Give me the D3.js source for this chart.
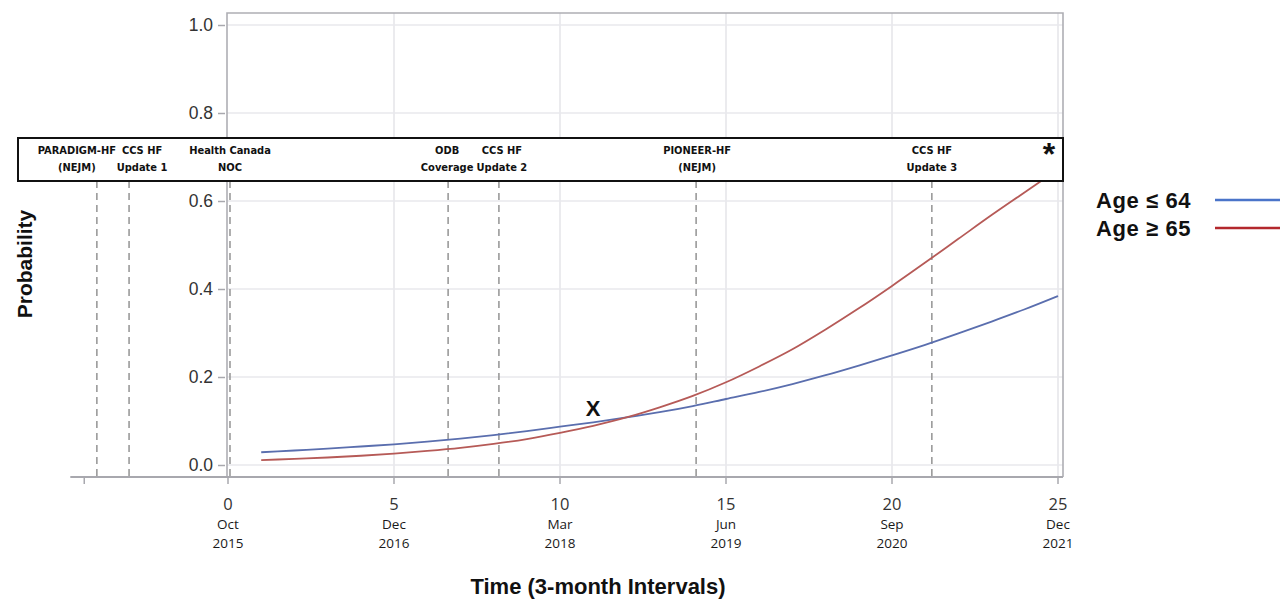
<!DOCTYPE html>
<html>
<head>
<meta charset="utf-8">
<script src="https://cdn.jsdelivr.net/npm/d3@7"></script>
<style>
  html, body { margin: 0; padding: 0; background: #fff; }
  svg { display: block; }
</style>
</head>
<body>
<svg id="chart" width="1280" height="602"></svg>
<script>
// ---------- DATA ----------
const times = [1,2,3,4,5,6,7,8,9,10,11,12,13,14,15,16,17,18,19,20,21,22,23,24,25];
const ageLE64 = [0.029,0.033,0.037,0.042,0.047,0.053,0.060,0.068,0.077,0.087,0.097,0.108,0.120,0.134,0.150,0.166,0.184,0.204,0.226,0.249,0.273,0.299,0.326,0.354,0.384];
const ageGE65 = [0.011,0.014,0.017,0.021,0.026,0.032,0.039,0.048,0.059,0.073,0.089,0.108,0.131,0.157,0.188,0.224,0.263,0.308,0.356,0.407,0.460,0.514,0.568,0.620,0.672];
const seriesNames = ["Age \u2264 64", "Age \u2265 65"];
const xTickValues = [0,5,10,15,20,25];
const xTickMonths = ["Oct","Dec","Mar","Jun","Sep","Dec"];
const xTickYears = ["2015","2016","2018","2019","2020","2021"];
const yTickValues = [0,0.2,0.4,0.6,0.8,1.0];
const eventTimes = [-3.95,-2.98,0.06,6.63,8.16,14.1,21.2];
const eventLabels = [["PARADIGM-HF","(NEJM)"],["CCS HF","Update 1"],["Health Canada","NOC"],["ODB","Coverage"],["CCS HF","Update 2"],["PIONEER-HF","(NEJM)"],["CCS HF","Update 3"]];
const crossMarkTime = 11.0, crossMarkProb = 0.13;

// ---------- LAYOUT ----------
const eventLabelDx = [-20, 13, 0, -1, 3, 1, 0];
const svg = d3.select("#chart");
const x = d3.scaleLinear().domain([0,25]).range([228,1058]);
const y = d3.scaleLinear().domain([0,1]).range([465,25]);
const frame = {left:227, right:1063, top:13, bottom:477};
const boxTop = 138, boxBottom = 181;
const colLine = ["#5a6eae", "#b65a57"];
const colLegend = ["#4a74c9", "#b3282d"];
const sans = "'Liberation Sans', Arial, sans-serif";
const tickFont = "'Open Sans', 'Liberation Sans', Arial, sans-serif";
const evFont = "'Liberation Sans Narrow', 'DejaVu Sans Condensed', Arial, sans-serif";

// gridlines
svg.append("g").selectAll("line.vg").data([5,10,15,20,25]).join("line")
  .attr("x1", d=>x(d)).attr("x2", d=>x(d))
  .attr("y1", frame.top).attr("y2", frame.bottom)
  .attr("stroke", "#e4e4e8").attr("stroke-width", 1.5);
svg.append("g").selectAll("line.hg").data(yTickValues).join("line")
  .attr("x1", frame.left).attr("x2", frame.right)
  .attr("y1", d=>y(d)).attr("y2", d=>y(d))
  .attr("stroke", "#e8e8ec").attr("stroke-width", 1.5);

// frame (top, right, left)
svg.append("path")
  .attr("d", `M${frame.left},${frame.bottom}V${frame.top}H${frame.right}V${frame.bottom}`)
  .attr("fill", "none").attr("stroke", "#aeaeb4").attr("stroke-width", 1.6);

// bottom axis line
svg.append("line")
  .attr("x1", x(-4.75)).attr("x2", x(25.15))
  .attr("y1", frame.bottom).attr("y2", frame.bottom)
  .attr("stroke", "#a8a8ae").attr("stroke-width", 1.8);

// x ticks
const xAxis = svg.append("g").attr("transform", `translate(0,${frame.bottom})`);
xAxis.selectAll("line").data(xTickValues.concat([-4.33])).join("line")
  .attr("x1", d=>x(d)).attr("x2", d=>x(d)).attr("y1", 0).attr("y2", 7)
  .attr("stroke", "#a8a8ae").attr("stroke-width", 1.5);
const xl = xAxis.selectAll("g.lab").data(xTickValues).join("g")
  .attr("transform", d=>`translate(${x(d)},0)`);
xl.append("text").attr("y", 33).attr("text-anchor","middle")
  .attr("font-family", tickFont).attr("font-size", 16.5).attr("fill","#333")
  .text(d=>d);
xl.append("text").attr("y", 52).attr("text-anchor","middle")
  .attr("font-family", tickFont).attr("font-size", 13.5).attr("fill","#1a1a1a")
  .text((d,i)=>xTickMonths[i]);
xl.append("text").attr("y", 71).attr("text-anchor","middle")
  .attr("font-family", tickFont).attr("font-size", 13.5).attr("fill","#1a1a1a")
  .text((d,i)=>xTickYears[i]);

// y axis
const yAxis = d3.axisLeft(y).tickValues(yTickValues).tickFormat(d3.format(".1f")).tickSize(7).tickPadding(5);
const yg = svg.append("g").attr("transform", `translate(225,0)`).call(yAxis);
yg.select(".domain").remove();
yg.selectAll(".tick line").attr("stroke", "#a8a8ae").attr("stroke-width", 1.5);
yg.selectAll(".tick text").attr("font-family", sans).attr("font-size", 17.5).attr("fill","#333");

// event dashed lines
svg.append("g").selectAll("line").data(eventTimes).join("line")
  .attr("x1", d=>x(d)).attr("x2", d=>x(d))
  .attr("y1", boxBottom).attr("y2", frame.bottom)
  .attr("stroke", "#9a9a9a").attr("stroke-width", 1.6).attr("stroke-dasharray", "7,5");

// curves
const line = d3.line().curve(d3.curveMonotoneX).x(d=>x(d[0])).y(d=>y(d[1]));
[ageLE64, ageGE65].forEach((vals, i) => {
  svg.append("path").datum(times.map((t,j)=>[t, vals[j]]))
    .attr("d", line).attr("fill","none").attr("stroke", colLine[i]).attr("stroke-width", 1.8);
});

// event box
svg.append("rect").attr("x", 18).attr("y", boxTop).attr("width", frame.right - 18).attr("height", boxBottom - boxTop)
  .attr("fill", "#fff").attr("stroke", "#111").attr("stroke-width", 2);
const ev = svg.append("g").selectAll("g").data(eventLabels).join("g")
  .attr("transform", (d,i)=>`translate(${x(eventTimes[i]) + eventLabelDx[i]},0)`);
ev.append("text").attr("y", 154).attr("text-anchor","middle")
  .attr("font-family", evFont).attr("font-weight","bold").attr("font-size", 11)
  .attr("fill","#111").text(d=>d[0]);
ev.append("text").attr("y", 171).attr("text-anchor","middle")
  .attr("font-family", evFont).attr("font-weight","bold").attr("font-size", 11)
  .attr("fill","#111").text(d=>d[1]);
svg.append("text").attr("x", 1049).attr("y", 165).attr("text-anchor","middle")
  .attr("font-family", sans).attr("font-weight","bold")
  .attr("font-size", 32).attr("fill","#111").text("*");

// crossing mark
svg.append("text").attr("x", x(crossMarkTime)).attr("y", y(crossMarkProb)).attr("dy", "0.36em")
  .attr("text-anchor","middle").attr("font-family", sans)
  .attr("font-weight","bold").attr("font-size", 22).attr("fill","#111").text("X");

// axis titles
svg.append("text").attr("transform", "translate(32,264) rotate(-90)").attr("text-anchor","middle")
  .attr("font-family", sans).attr("font-weight","bold")
  .attr("font-size", 21).attr("fill","#111").text("Probability");
svg.append("text").attr("x", 598).attr("y", 594).attr("text-anchor","middle")
  .attr("font-family", sans).attr("font-weight","bold")
  .attr("font-size", 22).attr("fill","#111").text("Time (3-month Intervals)");

// legend
const lg = svg.append("g").selectAll("g").data(seriesNames).join("g")
  .attr("transform", (d,i)=>`translate(0,${200 + i*28})`);
lg.append("text").attr("x", 1096).attr("dy","0.36em")
  .attr("font-family", sans).attr("font-weight","bold")
  .attr("font-size", 22).attr("letter-spacing", 0.6).attr("fill","#111").text(d=>d);
lg.append("line").attr("x1", 1215).attr("x2", 1280).attr("y1", 0).attr("y2", 0)
  .attr("stroke", (d,i)=>colLegend[i]).attr("stroke-width", 2.5);
</script>
</body>
</html>
